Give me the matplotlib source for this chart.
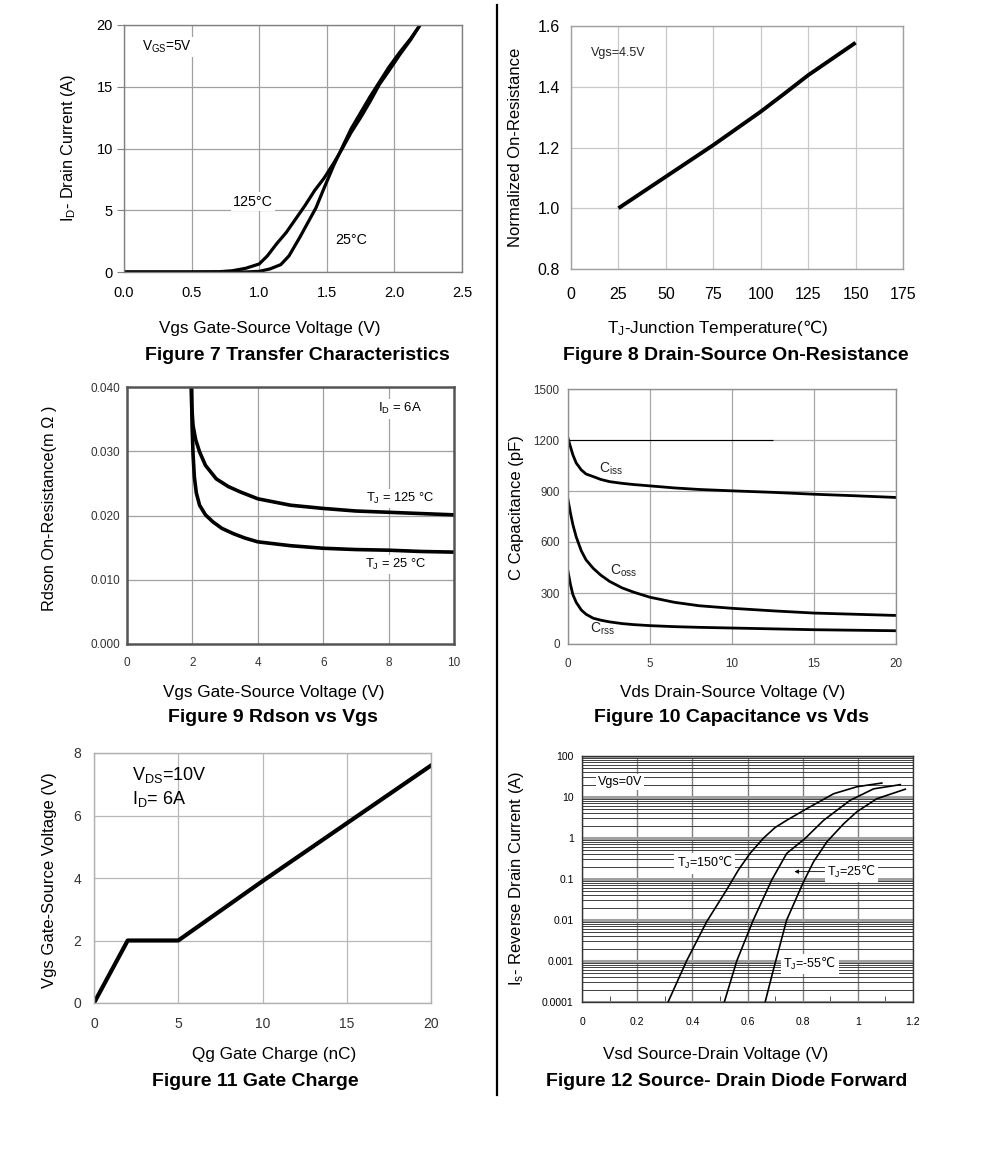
import numpy as np
import matplotlib
matplotlib.use('Agg')
import matplotlib.pyplot as plt
from matplotlib.ticker import LogLocator, NullFormatter, FixedLocator

plt.rcParams['font.family'] = ['Liberation Sans', 'DejaVu Sans']
plt.rcParams['mathtext.fontset'] = 'custom'
plt.rcParams['mathtext.rm'] = 'Liberation Sans'
plt.rcParams['mathtext.it'] = 'Liberation Sans'
plt.rcParams['mathtext.sf'] = 'DejaVu Sans'   # only used for the ℃ sign

# ---------------- data ----------------
# Figure 7 - transfer characteristics
f7_vgs_25 = [0.0, 0.5, 0.9, 1.0, 1.08, 1.16, 1.22, 1.3, 1.36, 1.42, 1.48, 1.55, 1.61, 1.68, 1.75, 1.82, 1.89, 1.96, 2.04, 2.12, 2.19]
f7_id_25 = [0.0, 0.0, 0.0, 0.05, 0.25, 0.6, 1.3, 2.8, 4.0, 5.2, 6.8, 8.6, 10.0, 11.6, 12.9, 14.2, 15.4, 16.6, 17.8, 18.9, 20.0]
f7_vgs_125 = [0.0, 0.5, 0.7, 0.8, 0.9, 1.0, 1.06, 1.13, 1.2, 1.27, 1.34, 1.41, 1.48, 1.55, 1.61, 1.68, 1.75, 1.82, 1.89, 1.96, 2.04, 2.12, 2.19]
f7_id_125 = [0.0, 0.0, 0.02, 0.1, 0.3, 0.65, 1.3, 2.3, 3.2, 4.3, 5.4, 6.6, 7.6, 8.8, 9.9, 11.3, 12.5, 13.8, 15.2, 16.3, 17.6, 18.8, 20.0]

# Figure 8 - normalized on-resistance vs temperature
f8_tj = [25, 50, 75, 100, 112, 125, 150]
f8_rn = [1.0, 1.104, 1.208, 1.318, 1.375, 1.438, 1.545]

# Figure 9 - Rdson vs Vgs
f9_vgs_125 = [1.97, 1.98, 2.02, 2.1, 2.22, 2.4, 2.73, 3.1, 3.45, 4.0, 5.0, 6.0, 7.0, 8.0, 9.0, 10.0]
f9_r_125 = [0.040, 0.037, 0.034, 0.0318, 0.0299, 0.0278, 0.0257, 0.0245, 0.0237, 0.0226, 0.0216, 0.0211, 0.0207, 0.0205, 0.0203, 0.0201]
f9_vgs_25 = [1.97, 1.99, 2.02, 2.06, 2.12, 2.22, 2.4, 2.63, 2.9, 3.24, 3.6, 4.0, 5.0, 6.0, 7.0, 8.0, 9.0, 10.0]
f9_r_25 = [0.040, 0.034, 0.0295, 0.026, 0.0235, 0.0216, 0.0201, 0.0190, 0.0180, 0.0172, 0.0165, 0.0159, 0.0153, 0.0149, 0.0147, 0.0146, 0.0144, 0.0143]

# Figure 10 - capacitance vs Vds
f10_vds = [0.0, 0.15, 0.3, 0.5, 0.81, 1.1, 1.53, 2.0, 2.54, 3.3, 4.0, 5.0, 6.5, 8.0, 10.0, 12.5, 15.0, 17.5, 20.0]
f10_ciss = [1210, 1160, 1112, 1065, 1024, 1000, 985, 968, 955, 945, 938, 930, 918, 909, 901, 892, 881, 872, 862]
f10_coss = [848, 770, 701, 630, 548, 495, 446, 405, 368, 330, 305, 275, 245, 225, 210, 195, 182, 175, 168]
f10_crss = [427, 350, 290, 245, 200, 175, 152, 140, 130, 120, 114, 108, 102, 98, 94, 89, 84, 81, 78]
f10_ref_level = 1200
f10_ref_end = 12.5

# Figure 11 - gate charge
f11_qg = [0.0, 2.0, 5.0, 10.0, 15.0, 20.0]
f11_vgs = [0.0, 2.0, 2.0, 3.9, 5.75, 7.6]

# Figure 12 - source-drain diode forward
f12_vsd_150 = [0.312, 0.379, 0.452, 0.524, 0.567, 0.609, 0.657, 0.70, 0.742, 0.815, 0.912, 0.997, 1.087]
f12_is_150 = [1e-4, 1e-3, 9.1e-3, 5.4e-2, 0.166, 0.42, 0.98, 1.8, 2.7, 5.2, 12.0, 17.8, 21.9]
f12_vsd_25 = [0.516, 0.561, 0.621, 0.688, 0.742, 0.809, 0.876, 0.972, 1.057, 1.154]
f12_is_25 = [1e-4, 1e-3, 1e-2, 9.5e-2, 0.42, 0.98, 2.7, 8.3, 15.8, 20.0]
f12_vsd_m55 = [0.664, 0.694, 0.742, 0.803, 0.839, 0.888, 0.948, 0.997, 1.069, 1.172]
f12_is_m55 = [1e-4, 6.2e-4, 1e-2, 8.5e-2, 0.26, 0.81, 2.2, 4.4, 9.1, 15.5]

W, H = 991, 1173
fig = plt.figure(figsize=(W / 100, H / 100), dpi=100)

DEGC = r'$\mathsf{℃}$'


def px_axes(l, t, r, b):
    return fig.add_axes([l / W, 1 - b / H, (r - l) / W, (b - t) / H])


def ftext(x, y, s, **kw):
    fig.text(x / W, 1 - y / H, s, ha='center', va='center', **kw)


def style(ax, frame='#808080', fw=1.0, grid='#a0a0a0', tsize=10, xpad=8, ypad=6, tcol='black'):
    for sp in ax.spines.values():
        sp.set_color(frame)
        sp.set_linewidth(fw)
    ax.grid(True, color=grid, linewidth=0.9)
    ax.set_axisbelow(True)
    ax.tick_params(axis='both', length=0, labelsize=tsize, colors=tcol)
    ax.tick_params(axis='x', pad=xpad)
    ax.tick_params(axis='y', pad=ypad)


white_box = dict(facecolor='white', edgecolor='none', pad=1.5)
XL = 12.3   # axis label size
TT = 14.0   # figure caption size

# ---------------- Figure 7 ----------------
ax7 = px_axes(124, 25, 462, 272)
ax7.plot(f7_vgs_25, f7_id_25, color='black', lw=2.3)
ax7.plot(f7_vgs_125, f7_id_125, color='black', lw=2.3)
ax7.set_xlim(0, 2.5)
ax7.set_ylim(0, 20)
ax7.set_xticks(np.arange(0, 2.51, 0.5))
ax7.set_xticklabels(['0.0', '0.5', '1.0', '1.5', '2.0', '2.5'])
ax7.set_yticks([0, 5, 10, 15, 20])
style(ax7, tsize=10.5, xpad=10, ypad=6)
ax7.tick_params(axis='y', length=5, color='#808080', pad=3)
ax7.text(0.13, 18.2, r'V$_{\rm GS}$=5V', fontsize=9.8, va='center', bbox=white_box)
ax7.text(0.955, 5.7, '125°C', fontsize=10.3, ha='center', va='center', bbox=white_box)
ax7.text(1.68, 2.6, '25°C', fontsize=10.3, ha='center', va='center')
ftext(68, 148, r'I$_{\rm D}$- Drain Current (A)', fontsize=11.7, rotation=90)
ftext(270, 328, 'Vgs Gate-Source Voltage (V)', fontsize=XL)
ftext(297, 355, 'Figure 7 Transfer Characteristics', fontsize=TT, fontweight='bold')

# ---------------- Figure 8 ----------------
ax8 = px_axes(571, 26, 903, 269)
ax8.plot(f8_tj, f8_rn, color='black', lw=2.8, solid_capstyle='butt')
ax8.set_xlim(0, 175)
ax8.set_ylim(0.8, 1.6)
ax8.set_xticks(np.arange(0, 176, 25))
ax8.set_yticks([0.8, 1.0, 1.2, 1.4, 1.6])
ax8.set_yticklabels(['0.8', '1.0', '1.2', '1.4', '1.6'])
style(ax8, frame='#a0a0a0', grid='#c8c8c8', tsize=11.5, xpad=13, ypad=8)
ax8.text(10.4, 1.511, 'Vgs=4.5V', fontsize=9, va='center', color='#222222')
ftext(516, 147, 'Normalized On-Resistance', fontsize=12, rotation=90)
ftext(717, 328, r'T$_{\rm J}$-Junction Temperature(' + DEGC + ')', fontsize=XL)
ftext(736, 355, 'Figure 8 Drain-Source On-Resistance', fontsize=TT, fontweight='bold')

# ---------------- Figure 9 ----------------
ax9 = px_axes(127, 387, 454, 644)
ax9.plot(f9_vgs_125, f9_r_125, color='black', lw=2.6)
ax9.plot(f9_vgs_25, f9_r_25, color='black', lw=2.6)
ax9.set_xlim(0, 10)
ax9.set_ylim(0, 0.040)
ax9.set_xticks(np.arange(0, 11, 2))
ax9.set_yticks([0, 0.01, 0.02, 0.03, 0.04])
ax9.set_yticklabels(['0.000', '0.010', '0.020', '0.030', '0.040'])
style(ax9, frame='#555555', fw=1.8, grid='#a0a0a0', tsize=8.5, xpad=9, ypad=5, tcol='#333333')
ax9.text(7.68, 0.0366, r'I$_{\rm D}$ = 6A', fontsize=9.5, va='center', bbox=white_box)
ax9.text(7.32, 0.0227, r'T$_{\rm J}$ = 125 °C', fontsize=9.3, va='center', bbox=white_box)
ax9.text(7.27, 0.0124, r'T$_{\rm J}$ = 25 °C', fontsize=9.3, va='center', bbox=white_box)
ftext(50, 508, 'Rdson On-Resistance(m Ω )', fontsize=11.7, rotation=90)
ftext(274, 692, 'Vgs Gate-Source Voltage (V)', fontsize=XL)
ftext(273, 718, 'Figure 9 Rdson vs Vgs', fontsize=TT, fontweight='bold')

# ---------------- Figure 10 ----------------
ax10 = px_axes(568, 389, 896, 644)
ax10.hlines(f10_ref_level, 0, f10_ref_end, color='black', lw=0.8)
ax10.plot(f10_vds, f10_ciss, color='black', lw=2.0)
ax10.plot(f10_vds, f10_coss, color='black', lw=2.0)
ax10.plot(f10_vds, f10_crss, color='black', lw=2.0)
ax10.set_xlim(0, 20)
ax10.set_ylim(0, 1500)
ax10.set_xticks([0, 5, 10, 15, 20])
ax10.set_yticks(np.arange(0, 1501, 300))
style(ax10, frame='#909090', grid='#a8a8a8', tsize=8.4, xpad=10, ypad=6, tcol='#333333')
ax10.text(1.87, 1028, r'C$_{\rm iss}$', fontsize=10, va='center', color='#222222')
ax10.text(2.54, 431, r'C$_{\rm oss}$', fontsize=10, va='center', color='#222222')
ax10.text(1.32, 90, r'C$_{\rm rss}$', fontsize=10, va='center', color='#222222')
ftext(517, 508, 'C Capacitance (pF)', fontsize=12, rotation=90)
ftext(733, 692, 'Vds Drain-Source Voltage (V)', fontsize=XL)
ftext(731, 718, 'Figure 10 Capacitance vs Vds', fontsize=TT, fontweight='bold')

# ---------------- Figure 11 ----------------
ax11 = px_axes(94, 753, 431, 1003)
ax11.plot(f11_qg, f11_vgs, color='black', lw=3.0)
ax11.set_xlim(0, 20)
ax11.set_ylim(0, 8)
ax11.set_xticks([0, 5, 10, 15, 20])
ax11.set_yticks([0, 2, 4, 6, 8])
style(ax11, frame='#b0b0b0', grid='#b8b8b8', tsize=10, xpad=10, ypad=9, tcol='#333333')
ax11.text(2.28, 7.3, r'V$_{\rm DS}$=10V', fontsize=13, va='center')
ax11.text(2.28, 6.52, r'I$_{\rm D}$= 6A', fontsize=13, va='center')
ftext(50, 880, 'Vgs Gate-Source Voltage (V)', fontsize=12, rotation=90)
ftext(274, 1055, 'Qg Gate Charge (nC)', fontsize=XL)
ftext(255, 1082, 'Figure 11 Gate Charge', fontsize=TT, fontweight='bold')

# ---------------- Figure 12 ----------------
ax12 = px_axes(582, 756, 913, 1002)
ax12.set_yscale('log')
ax12.plot(f12_vsd_150, f12_is_150, color='black', lw=1.2)
ax12.plot(f12_vsd_25, f12_is_25, color='black', lw=1.2)
ax12.plot(f12_vsd_m55, f12_is_m55, color='black', lw=1.2)
ax12.set_xlim(0, 1.2)
ax12.set_ylim(1e-4, 100)
ax12.set_xticks([0, 0.2, 0.4, 0.6, 0.8, 1.0, 1.2])
ax12.set_xticklabels(['0', '0.2', '0.4', '0.6', '0.8', '1', '1.2'])
ax12.set_yticks([1e-4, 1e-3, 1e-2, 1e-1, 1, 10, 100])
ax12.set_yticklabels(['0.0001', '0.001', '0.01', '0.1', '1', '10', '100'])
ax12.yaxis.set_minor_locator(LogLocator(base=10, subs=np.arange(2, 10), numticks=40))
ax12.yaxis.set_minor_formatter(NullFormatter())
ax12.xaxis.set_minor_locator(FixedLocator([0.1, 0.3, 0.5, 0.7, 0.9, 1.1]))
for sp in ax12.spines.values():
    sp.set_color('#333333')
    sp.set_linewidth(1.0)
ax12.grid(True, which='major', axis='y', color='#a0a0a0', linewidth=2.2)
ax12.grid(True, which='minor', axis='y', color='#404040', linewidth=0.7)
ax12.grid(True, which='major', axis='x', color='#808080', linewidth=1.0)
ax12.set_axisbelow(True)
ax12.tick_params(axis='both', which='major', length=0, labelsize=7.5)
ax12.tick_params(axis='x', which='major', pad=11)
ax12.tick_params(axis='y', which='major', pad=6)
ax12.tick_params(axis='y', which='minor', length=0)
ax12.tick_params(axis='x', which='minor', direction='in', length=4, color='#333333')
ax12.text(0.058, 10 ** 1.37, 'Vgs=0V', fontsize=9, va='center', bbox=white_box)
ax12.text(0.343, 10 ** -0.62, r'T$_{\rm J}$=150' + DEGC, fontsize=9, va='center', bbox=white_box)
ax12.annotate(r'T$_{\rm J}$=25' + DEGC, xy=(0.77, 10 ** -0.82), xytext=(0.887, 10 ** -0.82),
              fontsize=9, va='center', bbox=white_box,
              arrowprops=dict(arrowstyle='-|>', color='black', lw=0.6, mutation_scale=6, shrinkA=0, shrinkB=0))
ax12.text(0.73, 10 ** -3.07, r'T$_{\rm J}$=-55' + DEGC, fontsize=9, va='center', bbox=white_box)
ftext(517, 878, r'I$_{\rm s}$- Reverse Drain Current (A)', fontsize=12, rotation=90)
ftext(716, 1055, 'Vsd Source-Drain Voltage (V)', fontsize=XL)
ftext(727, 1082, 'Figure 12 Source- Drain Diode Forward', fontsize=TT, fontweight='bold')

# vertical divider between the two columns
fig.add_artist(plt.Line2D([497 / W, 497 / W], [1 - 5 / H, 1 - 1095 / H], color='black', lw=1.6))

fig.savefig('out.png', dpi=100, facecolor='white')
